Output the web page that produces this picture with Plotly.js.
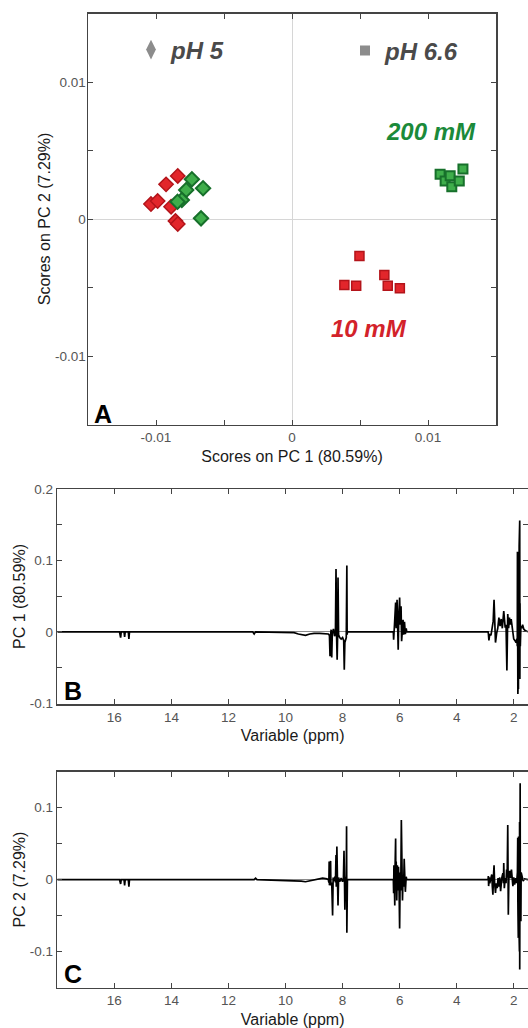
<!DOCTYPE html>
<html>
<head>
<meta charset="utf-8">
<script src="https://cdn.plot.ly/plotly-3.0.1.min.js"></script>
<style>html,body{margin:0;padding:0;background:#fff;}#chart{width:528px;height:1028px;}</style>
</head>
<body>
<div id="chart"></div>
<script>
// ---------- Panel A: PCA scores ----------
const pH5_10mM_pc1 = [-0.01037, -0.00988, -0.00926, -0.00840, -0.00889, -0.00857, -0.00840];
const pH5_10mM_pc2 = [0.00109, 0.00131, 0.00253, 0.00314, 0.00090, -0.00015, -0.00036];
const pH5_200mM_pc1 = [-0.00736, -0.00654, -0.00778, -0.00810, -0.00842, -0.00669];
const pH5_200mM_pc2 = [0.00290, 0.00224, 0.00212, 0.00139, 0.00126, 0.00005];
const pH66_10mM_pc1 = [0.00496, 0.00385, 0.00472, 0.00679, 0.00704, 0.00793];
const pH66_10mM_pc2 = [-0.00270, -0.00482, -0.00487, -0.00409, -0.00487, -0.00506];
const pH66_200mM_pc1 = [0.01089, 0.01126, 0.01163, 0.01175, 0.01230, 0.01257];
const pH66_200mM_pc2 = [0.00326, 0.00277, 0.00316, 0.00236, 0.00277, 0.00365];
const scoreTickVals = [-0.015, -0.01, -0.005, 0, 0.005, 0.01, 0.015];
const scoreTickText = ['', '-0.01', '', '0', '', '0.01', ''];

// ---------- Panel B: PC 1 loadings ----------
const ppmB = [18, 15.82, 15.78, 15.76, 15.66, 15.64, 15.62, 15.51, 15.49, 15.47, 11.15, 11.1, 11.05,
  9.7, 9.55, 9.45, 9.3, 9.15, 9.0, 8.8, 8.6,
  8.5, 8.46, 8.44, 8.42, 8.40, 8.38, 8.36, 8.32, 8.28, 8.25, 8.23, 8.21, 8.19, 8.17, 8.16, 8.14, 8.10, 8.05, 8.00, 7.96, 7.94, 7.92, 7.90, 7.87, 7.85, 7.84, 7.83,
  6.22, 6.21, 6.18, 6.15, 6.14, 6.12, 6.09, 6.07, 6.05, 6.03, 6.00, 5.98, 5.95, 5.93, 5.91, 5.88, 5.86, 5.83, 5.80, 5.77, 5.75,
  2.90, 2.89, 2.87, 2.84, 2.80, 2.77, 2.75, 2.72, 2.69, 2.67, 2.64, 2.60, 2.56, 2.52, 2.48, 2.44, 2.40, 2.35, 2.30, 2.27, 2.24, 2.21, 2.18, 2.15, 2.12, 2.09, 2.05, 2.00, 1.96, 1.92, 1.89,
  1.875, 1.87, 1.865, 1.86, 1.855, 1.85, 1.845, 1.84, 1.835, 1.83, 1.825, 1.82, 1.815, 1.81, 1.805, 1.80, 1.795, 1.79, 1.785, 1.78, 1.77, 1.75, 1.72, 1.69, 1.65, 1.60, 1.5];
const pc1Load = [0, 0, -0.008, 0, 0, -0.007, 0, 0, -0.010, 0, 0, -0.003, 0,
  -0.001, -0.003, -0.004, -0.005, -0.003, -0.002, -0.002, -0.003,
  -0.003, -0.005, -0.034, -0.004, 0.003, -0.036, -0.002, 0.004, -0.006, -0.002, 0.088, -0.005, -0.039, 0.002, 0.076, -0.004, -0.008, -0.010, -0.008, -0.012, -0.053, -0.015, -0.012, -0.008, 0.093, -0.004, 0,
  0, -0.011, 0.010, 0.030, 0.041, 0.005, 0.045, 0.010, -0.025, 0.020, 0.048, 0.010, 0.036, -0.013, 0.010, 0.017, -0.004, 0.014, -0.003, 0.005, 0,
  0, -0.002, -0.012, -0.003, -0.005, 0.002, 0.008, 0.015, 0.045, 0.005, -0.015, -0.002, 0.005, 0.020, 0.008, 0.018, 0.005, 0.029, 0.006, 0.010, -0.054, 0.025, 0.005, 0.020, 0.010, 0.018, 0.002, -0.010, -0.012, -0.015, -0.010,
  -0.020, 0.112, -0.040, 0.060, -0.087, 0.050, -0.070, 0.030, -0.080, 0.082, -0.060, 0.040, -0.050, 0.120, -0.030, 0.090, -0.020, 0.156, -0.066, 0.040, -0.020, 0.008, 0.005, 0.010, 0.004, 0.002, 0];

// ---------- Panel C: PC 2 loadings ----------
const ppmC = [18, 15.82, 15.78, 15.76, 15.66, 15.64, 15.62, 15.51, 15.49, 15.47, 11.1, 11.05, 11.0,
  9.6, 9.45, 9.3, 9.1, 8.9, 8.7, 8.55,
  8.50, 8.48, 8.47, 8.46, 8.44, 8.42, 8.41, 8.38, 8.35, 8.33, 8.30, 8.27, 8.25, 8.23, 8.22, 8.20, 8.18, 8.16, 8.14, 8.10, 8.05, 8.00, 7.97, 7.95, 7.93, 7.92, 7.90, 7.87, 7.86, 7.85, 7.84, 7.83,
  6.22, 6.21, 6.20, 6.18, 6.17, 6.16, 6.14, 6.13, 6.12, 6.10, 6.08, 6.06, 6.04, 6.02, 6.00, 5.98, 5.96, 5.94, 5.92, 5.90, 5.88, 5.86, 5.84, 5.82, 5.80, 5.77, 5.75,
  2.90, 2.89, 2.88, 2.86, 2.84, 2.80, 2.77, 2.75, 2.73, 2.71, 2.69, 2.67, 2.64, 2.61, 2.58, 2.55, 2.52, 2.49, 2.46, 2.42, 2.38, 2.36, 2.35, 2.33, 2.30, 2.27, 2.25, 2.23, 2.21, 2.19, 2.17, 2.14, 2.11, 2.08, 2.05, 2.03, 2.00, 1.97, 1.93, 1.90, 1.87,
  1.86, 1.855, 1.85, 1.84, 1.835, 1.83, 1.82, 1.815, 1.81, 1.80, 1.795, 1.79, 1.785, 1.78, 1.775, 1.77, 1.76, 1.75, 1.74, 1.71, 1.67, 1.62, 1.5];
const pc2Load = [0, 0, -0.006, 0, 0, -0.008, 0, 0, -0.010, 0, 0, 0.002, 0,
  -0.001, -0.002, -0.003, -0.001, 0.001, 0.002, 0.001,
  0, -0.004, 0.025, -0.008, 0.004, 0.026, -0.008, -0.004, -0.050, 0.003, -0.002, 0.004, -0.004, 0.034, -0.010, 0.046, 0.002, -0.036, 0.003, -0.003, 0.002, -0.003, 0.002, 0.040, -0.010, -0.042, -0.005, 0.005, 0.074, -0.074, -0.005, 0,
  0, -0.019, 0.020, -0.010, -0.036, 0.015, 0.057, -0.010, 0.025, -0.029, 0.020, -0.015, 0.018, -0.010, -0.068, 0.010, -0.015, 0.083, -0.010, -0.029, 0.005, -0.010, 0.029, -0.005, -0.017, 0.004, 0,
  0, 0.005, -0.009, 0.003, -0.005, 0.002, 0.007, -0.010, -0.021, 0.005, 0.020, -0.005, -0.0185, -0.005, -0.012, 0.002, -0.010, 0.003, -0.016, 0.002, 0.009, -0.005, 0.023, -0.012, 0.002, -0.005, 0.014, 0.003, 0.076, -0.049, 0.005, 0.012, 0.002, 0.014, 0.002, -0.009, 0.003, -0.007, 0.002, -0.005, 0.010,
  0.058, -0.030, -0.050, -0.081, 0.030, 0.060, -0.060, 0.040, 0.050, -0.100, 0.080, -0.125, 0.100, 0.020, 0.134, -0.030, -0.040, -0.058, 0.010, 0.002, -0.002, 0.001, 0];

const loadTickValsB = [-0.1, -0.05, 0, 0.05, 0.1, 0.15, 0.2];
const loadTickTextB = ['-0.1', '', '0', '', '0.1', '', '0.2'];
const loadTickValsC = [-0.15, -0.1, -0.05, 0, 0.05, 0.1, 0.15];
const loadTickTextC = ['', '-0.1', '', '0', '', '0.1', ''];
const ppmTickVals = [16, 14, 12, 10, 8, 6, 4, 2];

const FONT = 'Liberation Sans, Arial, Helvetica, sans-serif';
const RED = '#e2262b', RED_EDGE = '#b3141a';
const GREEN = '#3fae4b', GREEN_EDGE = '#17702b';

const traces = [
  {x: pH5_10mM_pc1, y: pH5_10mM_pc2, mode: 'markers', type: 'scatter', showlegend: false, xaxis: 'x', yaxis: 'y',
   marker: {symbol: 'diamond', size: 11, color: RED, line: {color: RED_EDGE, width: 1.5}}, name: 'pH 5, 10 mM'},
  {x: pH5_200mM_pc1, y: pH5_200mM_pc2, mode: 'markers', type: 'scatter', showlegend: false, xaxis: 'x', yaxis: 'y',
   marker: {symbol: 'diamond', size: 11, color: GREEN, line: {color: GREEN_EDGE, width: 2}}, name: 'pH 5, 200 mM'},
  {x: pH66_10mM_pc1, y: pH66_10mM_pc2, mode: 'markers', type: 'scatter', showlegend: false, xaxis: 'x', yaxis: 'y',
   marker: {symbol: 'square', size: 9, color: RED, line: {color: RED_EDGE, width: 1.5}}, name: 'pH 6.6, 10 mM'},
  {x: pH66_200mM_pc1, y: pH66_200mM_pc2, mode: 'markers', type: 'scatter', showlegend: false, xaxis: 'x', yaxis: 'y',
   marker: {symbol: 'square', size: 9, color: GREEN, line: {color: GREEN_EDGE, width: 2}}, name: 'pH 6.6, 200 mM'},
  {x: [null], y: [null], mode: 'markers', type: 'scatter', xaxis: 'x', yaxis: 'y', name: 'pH 5', legend: 'legend',
   marker: {symbol: 'diamond-tall', size: 14, color: '#8c8c8c'}},
  {x: [null], y: [null], mode: 'markers', type: 'scatter', xaxis: 'x', yaxis: 'y', name: 'pH 6.6', legend: 'legend2',
   marker: {symbol: 'square', size: 10, color: '#8c8c8c'}},
  {x: ppmB, y: pc1Load, mode: 'lines', type: 'scatter', showlegend: false, xaxis: 'x2', yaxis: 'y2',
   line: {color: '#000', width: 1.7}, name: 'PC 1 loadings'},
  {x: ppmC, y: pc2Load, mode: 'lines', type: 'scatter', showlegend: false, xaxis: 'x3', yaxis: 'y3',
   line: {color: '#000', width: 1.7}, name: 'PC 2 loadings'}
];

const tickFont = {family: FONT, size: 13.5, color: '#555'};
const titleFont = {family: FONT, size: 16, color: '#1a1a1a'};
const boxAxis = {
  showline: true, linecolor: '#444', linewidth: 1.5, mirror: 'ticks',
  ticks: 'inside', ticklen: 5, tickcolor: '#444', tickwidth: 1,
  showgrid: false, tickfont: tickFont, automargin: false
};
const H = 1028, W = 528;
const legFont = {family: FONT, size: 24, color: '#4a4a4a', weight: 'bold', style: 'italic'};

const layout = {
  width: W, height: H,
  margin: {l: 0, r: 0, t: 0, b: 0},
  paper_bgcolor: '#fff', plot_bgcolor: '#fff',
  showlegend: true,
  legend: {x: 131 / W, xanchor: 'left', y: 1 - 50 / H, yanchor: 'middle', orientation: 'h',
    font: legFont, bgcolor: 'rgba(0,0,0,0)', borderwidth: 0, itemwidth: 30},
  legend2: {x: 345 / W, xanchor: 'left', y: 1 - 51 / H, yanchor: 'middle', orientation: 'h',
    font: legFont, bgcolor: 'rgba(0,0,0,0)', borderwidth: 0, itemwidth: 30},
  xaxis: Object.assign({}, boxAxis, {
    domain: [88 / W, 496 / W], anchor: 'y', range: [-0.015, 0.015],
    tickmode: 'array', tickvals: scoreTickVals, ticktext: scoreTickText,
    zeroline: true, zerolinecolor: '#d6d6d6', zerolinewidth: 1,
    title: {text: 'Scores on PC 1 (80.59%)', font: titleFont, standoff: 6}
  }),
  yaxis: Object.assign({}, boxAxis, {
    domain: [1 - 424.5 / H, 1 - 13.5 / H], anchor: 'x', range: [-0.015, 0.015],
    tickmode: 'array', tickvals: scoreTickVals, ticktext: scoreTickText,
    zeroline: true, zerolinecolor: '#d6d6d6', zerolinewidth: 1,
    ticklabelstandoff: -2,
    title: {text: 'Scores on PC 2 (7.29%)', font: titleFont, standoff: 0}
  }),
  xaxis2: Object.assign({}, boxAxis, {
    domain: [57.3 / W, 1], anchor: 'y2', range: [18, 1.5],
    tickmode: 'array', tickvals: ppmTickVals, zeroline: false,
    title: {text: 'Variable (ppm)', font: titleFont, standoff: 6}
  }),
  yaxis2: Object.assign({}, boxAxis, {
    domain: [1 - 704 / H, 1 - 489 / H], anchor: 'x2', range: [-0.101, 0.2],
    tickmode: 'array', tickvals: loadTickValsB, ticktext: loadTickTextB,
    zeroline: true, zerolinecolor: '#8a8a8a', zerolinewidth: 1,
    title: {text: 'PC 1 (80.59%)', font: titleFont, standoff: 0}
  }),
  xaxis3: Object.assign({}, boxAxis, {
    domain: [57.3 / W, 1], anchor: 'y3', range: [18, 1.5],
    tickmode: 'array', tickvals: ppmTickVals, zeroline: false,
    title: {text: 'Variable (ppm)', font: titleFont, standoff: 6}
  }),
  yaxis3: Object.assign({}, boxAxis, {
    domain: [1 - 987.5 / H, 1 - 771.7 / H], anchor: 'x3', range: [-0.15, 0.15],
    tickmode: 'array', tickvals: loadTickValsC, ticktext: loadTickTextC,
    zeroline: true, zerolinecolor: '#8a8a8a', zerolinewidth: 1,
    title: {text: 'PC 2 (7.29%)', font: titleFont, standoff: 0}
  }),
  annotations: [
    {text: '200 mM', xref: 'x', yref: 'y', x: 0.01025, y: 0.00642, showarrow: false,
     font: {family: FONT, size: 24, color: '#1b8a3a', weight: 'bold', style: 'italic'}},
    {text: '10 mM', xref: 'x', yref: 'y', x: 0.00569, y: -0.00798, showarrow: false,
     font: {family: FONT, size: 24, color: '#d3222a', weight: 'bold', style: 'italic'}},
    {text: 'A', xref: 'x', yref: 'y', x: -0.0147, y: -0.0142, xanchor: 'left', showarrow: false,
     font: {family: FONT, size: 25, color: '#000', weight: 'bold'}},
    {text: 'B', xref: 'x2', yref: 'y2', x: 17.83, y: -0.083, xanchor: 'left', showarrow: false,
     font: {family: FONT, size: 25, color: '#000', weight: 'bold'}},
    {text: 'C', xref: 'x3', yref: 'y3', x: 17.83, y: -0.1315, xanchor: 'left', showarrow: false,
     font: {family: FONT, size: 25, color: '#000', weight: 'bold'}}
  ]
};

Plotly.newPlot('chart', traces, layout, {staticPlot: true, displayModeBar: false});
</script>
</body>
</html>
